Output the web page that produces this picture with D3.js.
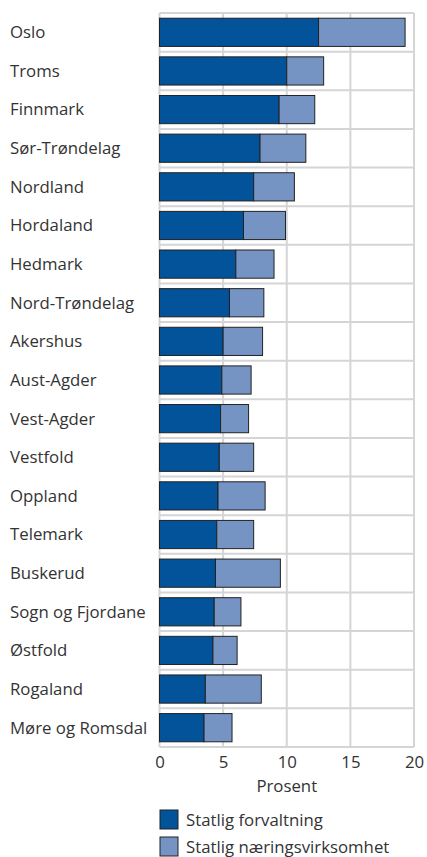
<!DOCTYPE html>
<html>
<head>
<meta charset="utf-8">
<script src="https://cdn.jsdelivr.net/npm/d3@7"></script>
<style>
  body { margin: 0; background: #fff; }
  svg { display: block; font-family: "Open Sans", "Noto Sans", sans-serif; }
</style>
</head>
<body>
<div class="chart"></div>
<script>
// Fylker, sortert etter statlig forvaltning
const counties = ["Oslo", "Troms", "Finnmark", "Sør-Trøndelag", "Nordland", "Hordaland",
    "Hedmark", "Nord-Trøndelag", "Akershus", "Aust-Agder", "Vest-Agder", "Vestfold",
    "Oppland", "Telemark", "Buskerud", "Sogn og Fjordane", "Østfold", "Rogaland", "Møre og Romsdal"];

const forvaltning = [12.5, 10.0, 9.4, 7.9, 7.4, 6.6, 6.0, 5.5, 5.0, 4.9, 4.8, 4.7, 4.6, 4.5, 4.4, 4.3, 4.2, 3.6, 3.5];
const naering = [6.8, 2.9, 2.8, 3.6, 3.2, 3.3, 3.0, 2.7, 3.1, 2.3, 2.2, 2.7, 3.7, 2.9, 5.1, 2.1, 1.9, 4.4, 2.2];

const xTicks = [0, 5, 10, 15, 20];
const seriesNames = ["Statlig forvaltning", "Statlig næringsvirksomhet"];
const colors = ["#02539a", "#7594c4"];

const width = 427, height = 857;
const margin = { top: 13, right: 13, bottom: 110, left: 159.5 };
const fontSize = "16.8px";

const svg = d3.select(".chart").append("svg")
    .attr("width", width)
    .attr("height", height);

const x = d3.scaleLinear()
    .domain([0, 20])
    .range([margin.left, width - margin.right]);

const y = d3.scaleBand()
    .domain(counties)
    .range([margin.top, height - margin.bottom])
    .paddingInner(0.27)
    .paddingOuter(0.135);

// stacked data
const rows = counties.map((c, i) => ({ name: c, a: forvaltning[i], b: naering[i] }));
const stack = d3.stack().keys(["a", "b"])(rows);

// grid: vertical lines at ticks, horizontal lines between rows
const grid = svg.append("g").attr("stroke", "#d5d5d5").attr("stroke-width", 2);
grid.selectAll(".v")
    .data(xTicks)
    .join("line")
    .attr("x1", d => x(d)).attr("x2", d => x(d))
    .attr("y1", margin.top).attr("y2", height - margin.bottom);

const rowEdges = d3.range(counties.length + 1).map(i => margin.top + i * (height - margin.bottom - margin.top) / counties.length);
grid.selectAll(".h")
    .data(rowEdges)
    .join("line")
    .attr("x1", x(0)).attr("x2", x(20))
    .attr("y1", d => d).attr("y2", d => d);

// bars
svg.append("g")
    .selectAll("g")
    .data(stack)
    .join("g")
    .attr("fill", (d, i) => colors[i])
    .selectAll("rect")
    .data(d => d)
    .join("rect")
    .attr("x", d => x(d[0]))
    .attr("y", d => y(d.data.name))
    .attr("width", d => x(d[1]) - x(d[0]))
    .attr("height", y.bandwidth())
    .attr("stroke", "#222")
    .attr("stroke-width", 1);

// county labels
svg.append("g")
    .selectAll("text")
    .data(counties)
    .join("text")
    .attr("x", 10)
    .attr("y", d => y(d) + y.bandwidth() / 2)
    .attr("dy", "0.35em")
    .attr("fill", "#333")
    .style("font-size", fontSize)
    .text(d => d);

// x axis
const xAxis = svg.append("g")
    .attr("transform", `translate(0,${height - margin.bottom})`)
    .call(d3.axisBottom(x).tickValues(xTicks).tickSize(0).tickPadding(9));
xAxis.select(".domain").remove();
xAxis.selectAll("text")
    .attr("fill", "#333")
    .style("font-size", fontSize)
    .style("font-family", "'Open Sans', 'Noto Sans', sans-serif");

svg.append("text")
    .attr("x", x(10))
    .attr("y", 792)
    .attr("text-anchor", "middle")
    .attr("fill", "#333")
    .style("font-size", fontSize)
    .text("Prosent");

// legend
const legend = svg.append("g")
    .selectAll("g")
    .data(seriesNames)
    .join("g")
    .attr("transform", (d, i) => `translate(160,${810 + i * 27})`);
legend.append("rect")
    .attr("width", 18)
    .attr("height", 19)
    .attr("fill", (d, i) => colors[i])
    .attr("stroke", "#222")
    .attr("stroke-width", 1);
legend.append("text")
    .attr("x", 26)
    .attr("y", 10)
    .attr("dy", "0.33em")
    .attr("fill", "#333")
    .style("font-size", fontSize)
    .text(d => d);
</script>
</body>
</html>
